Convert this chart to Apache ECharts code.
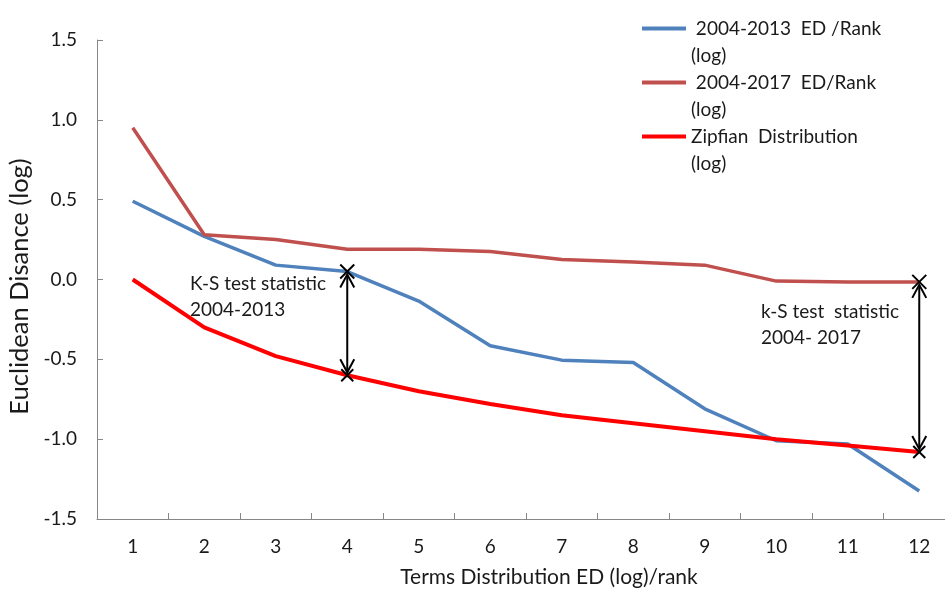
<!DOCTYPE html>
<html>
<head>
<meta charset="utf-8">
<script src="https://cdn.jsdelivr.net/npm/echarts@6/dist/echarts.min.js"></script>
<style>html,body{margin:0;padding:0;background:#fff;}#c{width:945px;height:594px;}</style>
</head>
<body>
<div id="c"></div>
<script>
const ranks = ['1','2','3','4','5','6','7','8','9','10','11','12'];
const ed2013 = [0.49, 0.27, 0.09, 0.05, -0.135, -0.415, -0.505, -0.52, -0.81, -1.01, -1.03, -1.325];
const ed2017 = [0.95, 0.28, 0.25, 0.19, 0.19, 0.175, 0.125, 0.11, 0.09, -0.01, -0.015, -0.015];
const zipf = [0.00, -0.30, -0.48, -0.60, -0.70, -0.78, -0.85, -0.90, -0.95, -1.00, -1.04, -1.08];
const yTicks = [-1.5, -1.0, -0.5, 0.0, 0.5, 1.0, 1.5];
const seriesNames = ['2004-2013 ED /Rank (log)', '2004-2017 ED/Rank (log)', 'Zipfian Distribution (log)'];
const legendLabels = [' 2004-2013  ED /Rank\n(log)', ' 2004-2017  ED/Rank\n(log)', 'Zipfian  Distribution\n(log)'];
// K-S test statistic gaps: rank index, upper series, lower series
const ksGaps = [
  [3, ed2013[3], zipf[3]],
  [11, ed2017[11], zipf[11]]
];

const FONT = 'Lato';
const TXT = '#1a1a1a';
const chart = echarts.init(document.getElementById('c'), null, {renderer: 'canvas'});

function renderGap(params, api) {
  const p1 = api.coord([api.value(0), api.value(1)]);
  const p2 = api.coord([api.value(0), api.value(2)]);
  const x = p1[0];
  const st = {stroke: '#000', lineWidth: 2, fill: 'none'};
  const xs = 7;
  return {
    type: 'group',
    children: [
      {type: 'line', shape: {x1: x, y1: p1[1] + 3, x2: x, y2: p2[1] - 3}, style: st},
      {type: 'polyline', shape: {points: [[x - 7, p1[1] + 16], [x, p1[1] + 3], [x + 7, p1[1] + 16]]}, style: st},
      {type: 'polyline', shape: {points: [[x - 7, p2[1] - 16], [x, p2[1] - 3], [x + 7, p2[1] - 16]]}, style: st},
      {type: 'line', shape: {x1: x - xs, y1: p1[1] - xs, x2: x + xs, y2: p1[1] + xs}, style: st},
      {type: 'line', shape: {x1: x - xs, y1: p1[1] + xs, x2: x + xs, y2: p1[1] - xs}, style: st},
      {type: 'line', shape: {x1: x - 6, y1: p2[1] - 6, x2: x + 6, y2: p2[1] + 6}, style: st},
      {type: 'line', shape: {x1: x - 6, y1: p2[1] + 6, x2: x + 6, y2: p2[1] - 6}, style: st}
    ]
  };
}

const option = {
  backgroundColor: '#fff',
  animation: false,
  textStyle: {fontFamily: FONT},
  grid: {left: 97, top: 40, width: 858, height: 479, containLabel: false, outerBoundsMode: 'none'},
  legend: {
    data: seriesNames,
    orient: 'vertical',
    left: 637,
    top: -17,
    icon: 'rect',
    itemWidth: 44,
    itemHeight: 4,
    itemGap: -27,
    formatter: function (name) { return '\n' + legendLabels[seriesNames.indexOf(name)]; },
    textStyle: {fontFamily: FONT, fontSize: 19, color: TXT, lineHeight: 27}
  },
  xAxis: {
    type: 'category',
    data: ranks,
    boundaryGap: true,
    name: 'Terms Distribution ED (log)/rank',
    nameLocation: 'middle',
    nameGap: 48,
    nameTextStyle: {fontFamily: FONT, fontSize: 21, color: TXT, padding: [0, 0, 0, 46]},
    axisLine: {onZero: false, lineStyle: {color: '#868686', width: 1}},
    axisTick: {show: true, inside: true, length: 6, lineStyle: {color: '#868686'}},
    axisLabel: {fontFamily: FONT, fontSize: 19, color: TXT, margin: 18},
    splitLine: {show: false}
  },
  yAxis: {
    type: 'value',
    min: -1.5,
    max: 1.5,
    interval: 0.5,
    name: 'Euclidean Disance (log)',
    nameLocation: 'middle',
    nameGap: 61,
    nameRotate: 90,
    nameTextStyle: {fontFamily: FONT, fontSize: 25.5, color: TXT, padding: [0, 14, 0, 0]},
    axisLine: {show: true, lineStyle: {color: '#868686', width: 1}},
    axisTick: {show: true, inside: true, length: 6, lineStyle: {color: '#868686'}},
    axisLabel: {fontFamily: FONT, fontSize: 19, color: TXT, margin: 20,
      formatter: function (v) { return v.toFixed(1); }},
    splitLine: {show: false}
  },
  series: [
    {name: seriesNames[0], type: 'line', data: ed2013, symbol: 'none', color: '#4F81BD',
      lineStyle: {width: 3.5, color: '#4F81BD'}},
    {name: seriesNames[1], type: 'line', data: ed2017, symbol: 'none', color: '#C0504D',
      lineStyle: {width: 3.5, color: '#C0504D'}},
    {name: seriesNames[2], type: 'line', data: zipf, symbol: 'none', color: '#FF0000',
      lineStyle: {width: 4, color: '#FF0000'}},
    {name: 'KS', type: 'custom', data: ksGaps, renderItem: renderGap, clip: false, z: 5,
      encode: {x: 0, y: [1, 2]}}
  ],
  graphic: [
    {type: 'text', left: 190, top: 271, style: {text: 'K-S test statistic\n2004-2013', fontFamily: FONT, fontSize: 19, lineHeight: 26, fill: TXT}},
    {type: 'text', left: 761, top: 299, style: {text: 'k-S test  statistic\n2004- 2017', fontFamily: FONT, fontSize: 19, lineHeight: 26, fill: TXT}}
  ]
};
chart.setOption(option);
</script>
</body>
</html>
